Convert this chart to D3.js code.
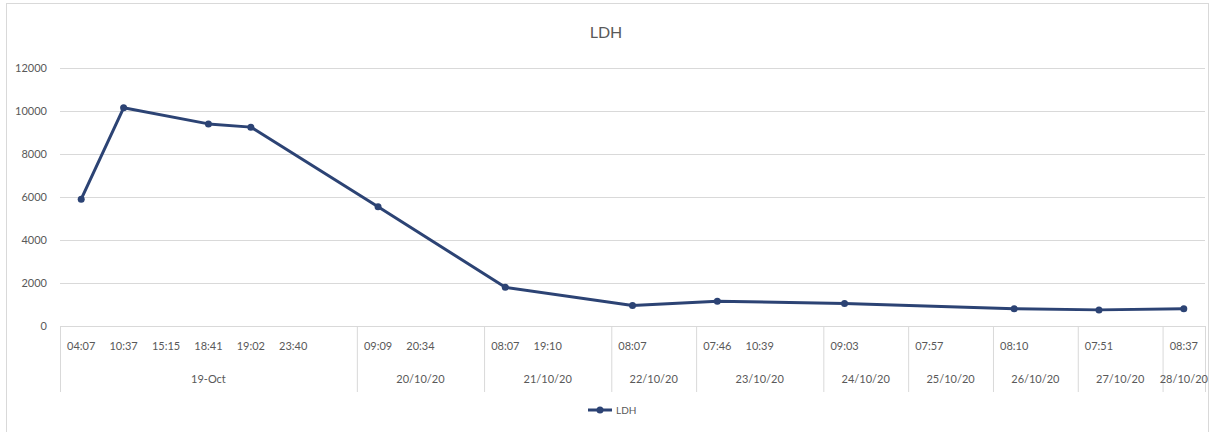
<!DOCTYPE html>
<html>
<head>
<meta charset="utf-8">
<script src="https://cdn.jsdelivr.net/npm/d3@7"></script>
<style>
  html, body { margin: 0; padding: 0; background: #fff; }
  svg { display: block; }
  text { font-family: Lato, "Liberation Sans", sans-serif; fill: #595959; }
</style>
</head>
<body>
<svg id="chart" width="1211" height="432"></svg>
<script>
// Date group for each category slot on the x axis
const categoryDates = [
  "19-Oct", "19-Oct", "19-Oct", "19-Oct", "19-Oct", "19-Oct", "19-Oct",
  "20/10/20", "20/10/20", "20/10/20",
  "21/10/20", "21/10/20", "21/10/20",
  "22/10/20", "22/10/20",
  "23/10/20", "23/10/20", "23/10/20",
  "24/10/20", "24/10/20",
  "25/10/20", "25/10/20",
  "26/10/20", "26/10/20",
  "27/10/20", "27/10/20",
  "28/10/20"
];
// Time of each sample (blank slots carry no label)
const categoryTimes = [
  "04:07", "10:37", "15:15", "18:41", "19:02", "23:40", "",
  "09:09", "20:34", "",
  "08:07", "19:10", "",
  "08:07", "",
  "07:46", "10:39", "",
  "09:03", "",
  "07:57", "",
  "08:10", "",
  "07:51", "",
  "08:37"
];
// LDH values (null = no measurement)
const ldhValues = [
  5900, 10150, null, 9400, 9250, null, null,
  5550, null, null,
  1800, null, null,
  950, null,
  1150, null, null,
  1050, null,
  null, null,
  800, null,
  750, null,
  800
];
const yTicks = [0, 2000, 4000, 6000, 8000, 10000, 12000];

const svg = d3.select("#chart");
const W = 1211, H = 432;
const plot = { left: 60, right: 1205, top: 68, bottom: 326 };

// chart frame
svg.append("rect")
  .attr("x", 6.5).attr("y", 3.5)
  .attr("width", W - 9).attr("height", H - 3)
  .attr("fill", "#fff").attr("stroke", "#d9d9d9").attr("stroke-width", 1);

const idx = d3.range(categoryTimes.length);
const x = d3.scaleBand().domain(idx).range([plot.left, plot.right]).padding(0);
const y = d3.scaleLinear().domain([0, 12000]).range([plot.bottom, plot.top]);
const cx = i => x(i) + x.bandwidth() / 2;

// title
svg.append("text")
  .attr("x", 606).attr("y", 38)
  .attr("text-anchor", "middle")
  .attr("font-size", 16)
  .text("LDH");

// horizontal gridlines + y labels via axis
const yAxis = d3.axisLeft(y).tickValues(yTicks).tickSize(-(plot.right - plot.left)).tickPadding(13).tickFormat(d3.format("d"));
const yg = svg.append("g").attr("transform", `translate(${plot.left},0)`).call(yAxis);
yg.select(".domain").remove();
yg.selectAll(".tick line").attr("stroke", "#d9d9d9").attr("stroke-width", 1);
yg.selectAll(".tick text").attr("font-size", 11).attr("fill", "#595959")
  .style("font-family", "Lato, 'Liberation Sans', sans-serif");

// category axis: time row
const xAxis = d3.axisBottom(x).tickSize(0).tickPadding(16).tickFormat(i => categoryTimes[i]);
const xg = svg.append("g").attr("transform", `translate(0,${plot.bottom})`).call(xAxis);
xg.select(".domain").attr("stroke", "#d9d9d9");
xg.selectAll(".tick text").attr("font-size", 11).attr("fill", "#595959")
  .style("font-family", "Lato, 'Liberation Sans', sans-serif");

// date groups: dividers and centered labels
const groups = [];
categoryDates.forEach((d, i) => {
  const last = groups[groups.length - 1];
  if (last && last.name === d) last.end = i;
  else groups.push({ name: d, start: i, end: i });
});
const boundaries = groups.map(g => x(g.start)).concat([plot.right]);
svg.append("g").selectAll("line").data(boundaries).join("line")
  .attr("x1", d => d + 0.5).attr("x2", d => d + 0.5)
  .attr("y1", plot.bottom).attr("y2", 392)
  .attr("stroke", "#d9d9d9").attr("stroke-width", 1);
svg.append("g").selectAll("text").data(groups).join("text")
  .attr("x", g => (x(g.start) + x(g.end) + x.bandwidth()) / 2)
  .attr("y", 383)
  .attr("text-anchor", "middle")
  .attr("font-size", 11)
  .text(g => g.name);

// series line (gaps bridged across missing samples)
const pts = idx.filter(i => ldhValues[i] != null).map(i => ({ i, v: ldhValues[i] }));
const color = "#2c4374";
svg.append("path")
  .datum(pts)
  .attr("fill", "none")
  .attr("stroke", color)
  .attr("stroke-width", 3)
  .attr("stroke-linejoin", "round")
  .attr("d", d3.line().x(d => cx(d.i)).y(d => y(d.v)));
svg.append("g").selectAll("circle").data(pts).join("circle")
  .attr("cx", d => cx(d.i)).attr("cy", d => y(d.v))
  .attr("r", 3.5).attr("fill", color);

// legend
const lg = svg.append("g").attr("transform", "translate(588,410)");
lg.append("line").attr("x1", 0).attr("x2", 24).attr("y1", 0).attr("y2", 0)
  .attr("stroke", color).attr("stroke-width", 3);
lg.append("circle").attr("cx", 12).attr("cy", 0).attr("r", 3.5).attr("fill", color);
lg.append("text").attr("x", 28).attr("y", 4).attr("font-size", 10).text("LDH");
</script>
</body>
</html>
